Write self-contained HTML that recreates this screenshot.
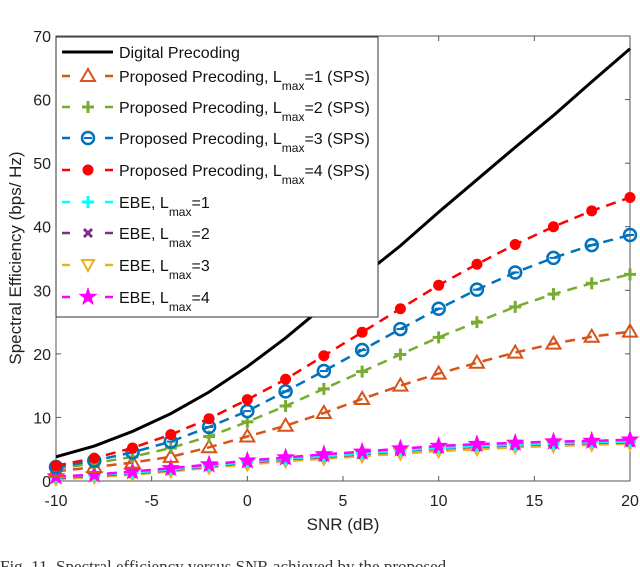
<!DOCTYPE html>
<html><head><meta charset="utf-8"><style>
body{margin:0;background:#fff}
svg{display:block;font-family:"Liberation Sans",sans-serif}
</style></head><body>
<svg id="c" width="640" height="567" viewBox="0 0 640 567"></svg>
<script>
const snr=[-10,-8,-6,-4,-2,0,2,4,6,8,10,12,14,16,18,20];
const digital=[3.8,5.5,7.8,10.6,14,18,22.5,27.5,32.2,37,42.3,47.4,52.5,57.5,62.8,68];
const prop1=[1.5,2.2,2.9,3.8,5.3,7,8.7,10.7,12.9,15,16.9,18.6,20.2,21.6,22.7,23.5];
const prop2=[1.9,2.8,3.8,5.2,7,9.3,11.8,14.5,17.2,19.9,22.6,25,27.4,29.4,31.1,32.5];
const prop3=[2.2,3.2,4.5,6.2,8.5,11,14.1,17.3,20.6,23.9,27.1,30.1,32.8,35.1,37.1,38.7];
const prop4=[2.4,3.6,5.2,7.3,9.8,12.8,16,19.7,23.4,27.1,30.8,34.1,37.2,40,42.5,44.6];
const ebe1=[0.6,0.9,1.3,1.8,2.4,3,3.5,3.9,4.3,4.8,5.2,5.5,5.7,5.9,6.1,6.2];
const ebe2=[0.5,0.8,1.2,1.7,2.3,2.9,3.4,3.8,4.2,4.7,5.1,5.4,5.6,5.8,6,6.1];
const ebe3=[0.3,0.6,1,1.5,2.1,2.6,3.1,3.5,3.9,4.3,4.7,5,5.3,5.5,5.7,5.9];
const ebe4=[0.7,1,1.5,2,2.6,3.2,3.7,4.2,4.6,5.1,5.5,5.8,6,6.2,6.3,6.5];
const xTicks=[-10,-5,0,5,10,15,20];
const yTicks=[0,10,20,30,40,50,60,70];

const L=56,R=630,T=36,B=481;
const X=v=>L+(v+10)/30*(R-L);
const Y=v=>B-v/70*(B-T);
const svg=document.getElementById('c');
const NS='http://www.w3.org/2000/svg';
function mk(tag,attrs,parent){const e=document.createElementNS(NS,tag);for(const k in attrs)e.setAttribute(k,attrs[k]);(parent||svg).appendChild(e);return e;}

const axes=mk('rect',{x:L,y:T,width:R-L,height:B-T,fill:'#fff',stroke:'#555','stroke-width':1});



xTicks.forEach(t=>{
  mk('line',{x1:X(t),x2:X(t),y1:B,y2:B-5,stroke:'#555'});
  mk('line',{x1:X(t),x2:X(t),y1:T,y2:T+5,stroke:'#555'});
  const tx=mk('text',{x:X(t),y:B+25,'text-anchor':'middle','font-size':16,fill:'#222'});
  tx.textContent=t;
  
  
});
yTicks.forEach(t=>{
  mk('line',{x1:L,x2:L+5,y1:Y(t),y2:Y(t),stroke:'#555'});
  mk('line',{x1:R,x2:R-5,y1:Y(t),y2:Y(t),stroke:'#555'});
  const tx=mk('text',{x:L-5,y:Y(t)+6,'text-anchor':'end','font-size':16,fill:'#222'});
  tx.textContent=t;
  
  
});

function marker(type,x,y,color,g){
  if(type==='tri')mk('path',{d:`M${x},${y-7}L${x+7},${y+5}L${x-7},${y+5}Z`,fill:'none',stroke:color,'stroke-width':2},g);
  else if(type==='tridown')mk('path',{d:`M${x},${y+6}L${x+6},${y-5}L${x-6},${y-5}Z`,fill:'none',stroke:color,'stroke-width':2},g);
  else if(type==='plus'){mk('path',{d:`M${x-6},${y}H${x+6}M${x},${y-6}V${y+6}`,stroke:color,'stroke-width':3},g);}
  else if(type==='circ'){mk('circle',{cx:x,cy:y,r:6,fill:'none',stroke:color,'stroke-width':2.5},g);mk('line',{x1:x-4,x2:x+4,y1:y,y2:y,stroke:color,'stroke-width':2},g);}
  else if(type==='dot')mk('circle',{cx:x,cy:y,r:5.5,fill:color},g);
  else if(type==='x')mk('path',{d:`M${x-4},${y-4}L${x+4},${y+4}M${x+4},${y-4}L${x-4},${y+4}`,stroke:color,'stroke-width':3},g);
  else if(type==='star'){let p='';for(let i=0;i<10;i++){const r=i%2?4:10,a=-Math.PI/2+i*Math.PI/5;p+=(i?'L':'M')+(x+r*Math.cos(a)).toFixed(1)+','+(y+r*Math.sin(a)).toFixed(1);}mk('path',{d:p+'Z',fill:color},g);}
}

const series=[
 {name:'ebe-lmax-3',data:ebe3,color:'#EDB120',m:'tridown'},
 {name:'ebe-lmax-2',data:ebe2,color:'#7E2F8E',m:'x'},
 {name:'ebe-lmax-1',data:ebe1,color:'#00FFFF',m:'plus'},
 {name:'ebe-lmax-4',data:ebe4,color:'#FF00FF',m:'star'},
 {name:'proposed-lmax-1',data:prop1,color:'#D95319',m:'tri'},
 {name:'proposed-lmax-2',data:prop2,color:'#77AC30',m:'plus'},
 {name:'proposed-lmax-3',data:prop3,color:'#0072BD',m:'circ'},
 {name:'proposed-lmax-4',data:prop4,color:'#FF0000',m:'dot'}
];
const dig=mk('path',{d:snr.map((s,i)=>(i?'L':'M')+X(s)+','+Y(digital[i])).join(''),fill:'none',stroke:'#000','stroke-width':3});


series.forEach(s=>{
  const g=mk('g',{});
  
  
  mk('path',{d:snr.map((v,i)=>(i?'L':'M')+X(v)+','+Y(s.data[i])).join(''),fill:'none',stroke:s.color,'stroke-width':2.5,'stroke-dasharray':'10 7'},g);
  snr.forEach((v,i)=>marker(s.m,X(v),Y(s.data[i]),s.color,g));
});

// legend
const lg=mk('g',{});


mk('rect',{x:56,y:37,width:322,height:280,fill:'#fff',stroke:'#333','stroke-width':1},lg);
const leg=[
 ['Digital Precoding',null,'#000',null],
 ['Proposed Precoding, L','tri','#D95319','=1 (SPS)'],
 ['Proposed Precoding, L','plus','#77AC30','=2 (SPS)'],
 ['Proposed Precoding, L','circ','#0072BD','=3 (SPS)'],
 ['Proposed Precoding, L','dot','#FF0000','=4 (SPS)'],
 ['EBE, L','plus','#00FFFF','=1'],
 ['EBE, L','x','#7E2F8E','=2'],
 ['EBE, L','tridown','#EDB120','=3'],
 ['EBE, L','star','#FF00FF','=4']
];
const rows=[52,76,107,138,170,202,233,265,297];
leg.forEach((e,i)=>{
  const y=rows[i];
  const g=mk('g',{},lg);
  
  
  if(!e[1])mk('line',{x1:62,x2:113,y1:y,y2:y,stroke:'#000','stroke-width':3},g);
  else{mk('line',{x1:62,x2:113,y1:y,y2:y,stroke:e[2],'stroke-width':2.5,'stroke-dasharray':'8 35'},g);marker(e[1],88,y,e[2],g);}
  const t=mk('text',{x:119,y:y+6,'font-size':16,fill:'#111'},g);
  if(!e[3])t.textContent=e[0];
  else{
    const a=mk('tspan',{},t);a.textContent=e[0];
    const b=mk('tspan',{dy:8,'font-size':12},t);b.textContent='max';
    const c=mk('tspan',{dy:-8},t);c.textContent=e[3];
  }
});

const xl=mk('text',{x:343,y:530,'text-anchor':'middle','font-size':17,fill:'#222'});
xl.textContent='SNR (dB)';


const yl=mk('text',{x:0,y:0,'text-anchor':'middle','font-size':17,fill:'#222',transform:'translate(21,258) rotate(-90)'});
yl.textContent='Spectral Efficiency (bps/ Hz)';


const cap=mk('text',{x:0,y:572,'font-size':17,fill:'#333','font-family':'Liberation Serif, serif'});
cap.textContent='Fig. 11.   Spectral efficiency versus SNR achieved by the proposed';


</script>
</body></html>
